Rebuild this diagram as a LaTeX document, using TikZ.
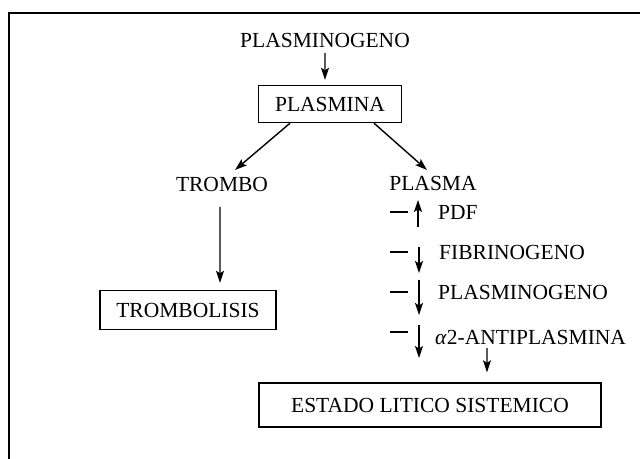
\documentclass[tikz,border=0pt]{standalone}
\usepackage{fontspec}
\setmainfont{Liberation Serif}
\usetikzlibrary{arrows.meta}
\tikzset{
  lbl/.style={font=\fontsize{21.5bp}{26bp}\selectfont, inner sep=0pt},
  boxn/.style={lbl, draw, line width=1.4bp, inner sep=0pt},
  arr/.style={line width=1.4bp, -{Stealth[length=12bp,width=8bp,inset=2.5bp]}},
  dsh/.style={line width=1.2bp}
}
\begin{document}
\begin{tikzpicture}[x=1bp,y=-1bp]
\useasboundingbox (0,0) rectangle (640,459);
\draw[line width=1.4bp] (640,13) -- (9,13) -- (9,459);

\node[lbl] (pg) at (325,40) {PLASMINOGENO};
\node[boxn, minimum width=143bp, minimum height=37bp] (pla) at (330,104) {PLASMINA};
\node[lbl] (trombo) at (222,184) {TROMBO};
\node[lbl] (plasma) at (433,183) {PLASMA};
\node[boxn, minimum width=176bp, minimum height=39bp] (tl) at (188,310) {TROMBOLISIS};
\node[lbl, anchor=west] (pdf) at (438,212) {PDF};
\node[lbl, anchor=west] (fib) at (439,252) {FIBRINOGENO};
\node[lbl, anchor=west] (plg) at (438,292) {PLASMINOGENO};
\node[lbl, anchor=west] (a2) at (435,337) {\textit{α}2-ANTIPLASMINA};
\node[boxn, minimum width=342bp, minimum height=44bp] (est) at (430,405) {ESTADO LITICO SISTEMICO};

\draw[arr] ([yshift=-13bp]pg.center) -- ([xshift=-5bp,yshift=5bp]pla.north);
\draw[arr] ([xshift=-40bp]pla.south) -- ([xshift=13bp,yshift=14bp]trombo.center);
\draw[arr] ([xshift=44bp]pla.south) -- ([xshift=-6bp,yshift=13bp]plasma.center);
\draw[arr] ([xshift=-2bp,yshift=-23bp]trombo.center) -- ([xshift=32bp,yshift=7bp]tl.north);

\draw[arr] ([xshift=-20bp,yshift=-15bp]pdf.west) -- ([xshift=-20bp,yshift=12bp]pdf.west);
\draw[arr] ([xshift=-20bp,yshift=5bp]fib.west) -- ([xshift=-20bp,yshift=-21bp]fib.west);
\draw[arr] ([xshift=-19bp,yshift=12bp]plg.west) -- ([xshift=-19bp,yshift=-23bp]plg.west);
\draw[arr] ([xshift=-16bp,yshift=12bp]a2.west) -- ([xshift=-16bp,yshift=-21bp]a2.west);
\draw[arr] ([xshift=52bp,yshift=-11bp]a2.west) -- ([xshift=57bp,yshift=10bp]est.north);

\draw[dsh] ([xshift=-48bp]pdf.west) -- ([xshift=-30bp]pdf.west);
\draw[dsh] ([xshift=-49bp]fib.west) -- ([xshift=-31bp]fib.west);
\draw[dsh] ([xshift=-48bp]plg.west) -- ([xshift=-30bp]plg.west);
\draw[dsh] ([xshift=-45bp,yshift=5bp]a2.west) -- ([xshift=-27bp,yshift=5bp]a2.west);
\end{tikzpicture}
\end{document}
